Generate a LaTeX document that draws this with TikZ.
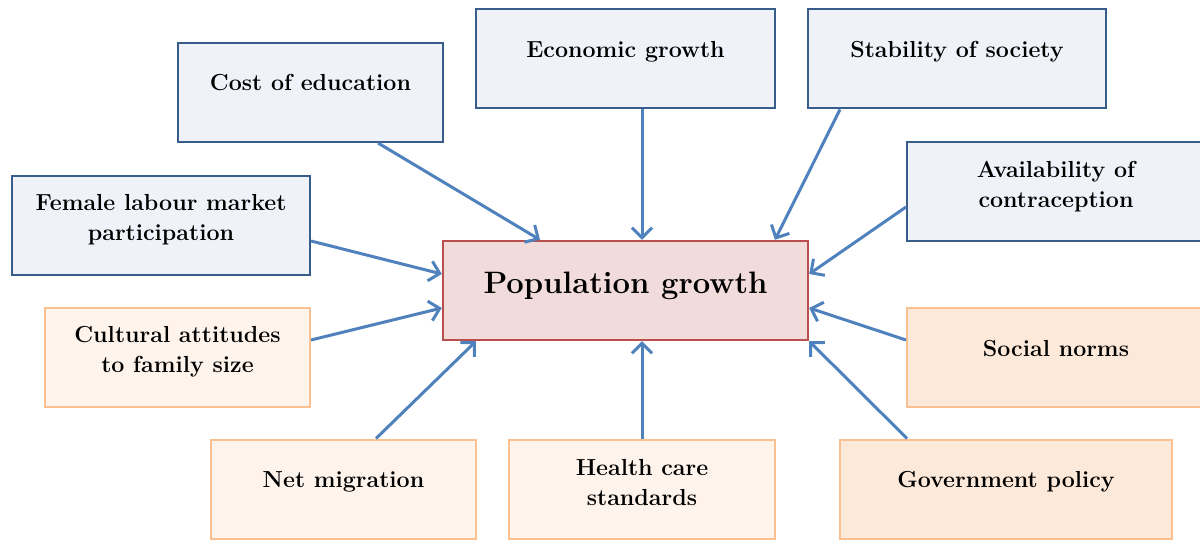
\documentclass[tikz,border=0pt]{standalone}
\usepackage{tikz}
\usetikzlibrary{arrows.meta}
\definecolor{boxblue}{RGB}{239,243,249}
\definecolor{lineblue}{RGB}{56,93,138}
\definecolor{boxpink}{RGB}{242,220,219}
\definecolor{linered}{RGB}{185,80,77}
\definecolor{boxcream}{RGB}{254,244,236}
\definecolor{boxpeach}{RGB}{253,233,217}
\definecolor{lineorange}{RGB}{250,192,144}
\definecolor{arrowblue}{RGB}{79,129,189}

\begin{document}
\begin{tikzpicture}
    \def\dx{0.5pt}
    \def\dy{0.5pt}
    \def\bh{99*\dy}

    \tikzstyle{word}=[font=\fontsize{11.6}{15}\selectfont\bfseries,align=center,inner sep=0pt,anchor=base]
    \tikzstyle{bigword}=[font=\fontsize{15.5}{18}\selectfont\bfseries,align=center,inner sep=0pt,anchor=base]
    \tikzstyle{factor}=[line width=1pt,draw=lineblue,fill=boxblue,minimum height=\bh,inner sep=0pt]
    \tikzstyle{cultural}=[line width=1pt,draw=lineorange,fill=boxcream,minimum height=\bh,inner sep=0pt]
    \tikzstyle{policy}=[line width=1pt,draw=lineorange,fill=boxpeach,minimum height=\bh,inner sep=0pt]
    \tikzstyle{result}=[line width=1.2pt,draw=linered,fill=boxpink,minimum height=\bh,minimum width=365*\dx,inner sep=0pt]

    \useasboundingbox (0,0) rectangle (1200*\dx,-540*\dy);

    % top row
    \node[factor,minimum width=265*\dx] (edu) at (310.5*\dx,-92.5*\dy) {};
    \node[word] (edut) at (310.5*\dx,-91*\dy) {Cost of education};

    \node[factor,minimum width=299*\dx] (econ) at (625.5*\dx,-59*\dy) {};
    \node[word] (econt) at (625.5*\dx,-57.5*\dy) {Economic growth};

    \node[factor,minimum width=298*\dx] (stab) at (957*\dx,-59*\dy) {};
    \node[word] (stabt) at (957*\dx,-57.5*\dy) {Stability of society};

    % left and right (base = last line)
    \node[factor,minimum width=298*\dx] (female) at (161*\dx,-225.5*\dy) {};
    \node[word] (femalet) at (161*\dx,-240.5*\dy) {Female labour market\\participation};

    \node[factor,minimum width=298*\dx] (contra) at (1056*\dx,-191.5*\dy) {};
    \node[word] (contrat) at (1056*\dx,-207.5*\dy) {Availability of\\contraception};

    \node[cultural,minimum width=265*\dx] (cult) at (177.5*\dx,-357.5*\dy) {};
    \node[word] (cultt) at (177.5*\dx,-372*\dy) {Cultural attitudes\\to family size};

    \node[policy,minimum width=298*\dx] (social) at (1056*\dx,-357.5*\dy) {};
    \node[word] (socialt) at (1056*\dx,-356*\dy) {Social norms};

    % bottom row
    \node[cultural,minimum width=265*\dx] (netmig) at (343.5*\dx,-489*\dy) {};
    \node[word] (netmigt) at (343.5*\dx,-487*\dy) {Net migration};

    \node[cultural,minimum width=266*\dx] (health) at (642*\dx,-489*\dy) {};
    \node[word] (healtht) at (642*\dx,-505*\dy) {Health care\\standards};

    \node[policy,minimum width=332*\dx] (gov) at (1006*\dx,-489*\dy) {};
    \node[word] (govt) at (1006*\dx,-487*\dy) {Government policy};

    % centre
    \node[result] (pop) at (625.5*\dx,-290.5*\dy) {};
    \node[bigword] (popt) at (625.5*\dx,-293*\dy) {Population growth};

    \tikzstyle{fwd} = [draw=arrowblue, line width=1.5pt, -{Straight Barb[length=5pt,width=10pt]}]

    \draw [fwd] ([xshift=67.5*\dx]edu.south) -- ([xshift=-85.5*\dx]pop.north);
    \draw [fwd] ([xshift=16.5*\dx]econ.south) -- ([xshift=16.5*\dx]pop.north);
    \draw [fwd] ([xshift=-117*\dx]stab.south) -- ([xshift=149.5*\dx]pop.north);
    \draw [fwd] ([yshift=-15.5*\dy]contra.west) -- ([yshift=16.5*\dy]pop.east);
    \draw [fwd] ([yshift=-15.5*\dy]female.east) -- ([yshift=16.5*\dy]pop.west);
    \draw [fwd] ([yshift=17.5*\dy]cult.east) -- ([yshift=-17.5*\dy]pop.west);
    \draw [fwd] ([yshift=17.5*\dy]social.west) -- ([yshift=-17.5*\dy]pop.east);
    \draw [fwd] ([xshift=32.5*\dx]netmig.north) -- ([xshift=-149.5*\dx]pop.south);
    \draw [fwd] (health.north) -- ([xshift=16.5*\dx]pop.south);
    \draw [fwd] ([xshift=-99*\dx]gov.north) -- (pop.south east);

  \end{tikzpicture}
\end{document}
